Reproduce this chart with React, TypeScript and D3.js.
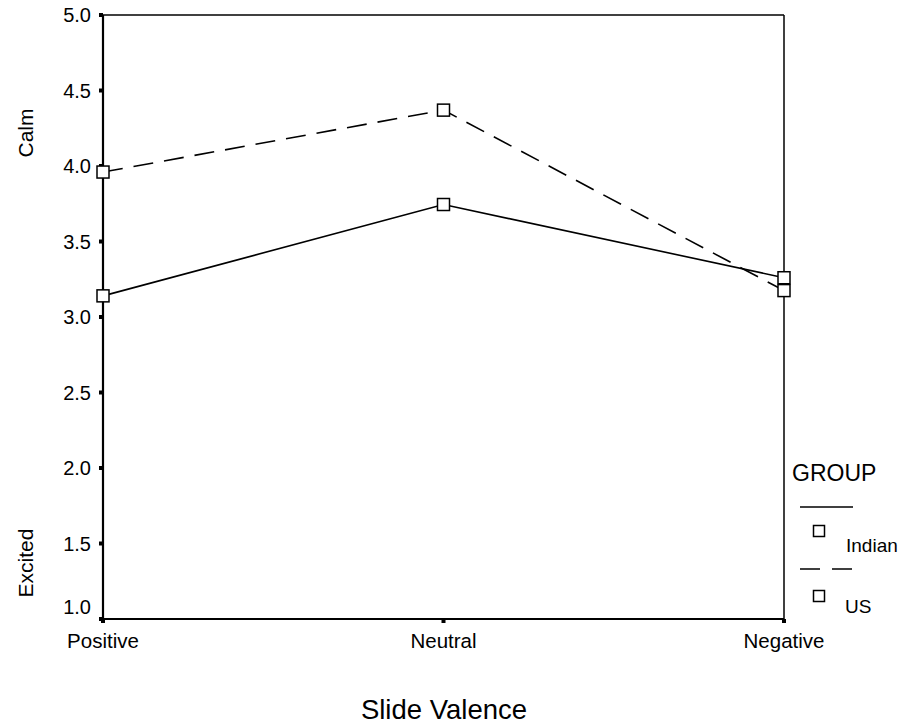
import React from 'react';
import * as d3 from 'd3';

const categories = ['Positive', 'Neutral', 'Negative'];
const indianValues = [3.14, 3.745, 3.26];
const usValues = [3.96, 4.37, 3.175];
const yTicks = [1.0, 1.5, 2.0, 2.5, 3.0, 3.5, 4.0, 4.5, 5.0];

const FONT = '"Liberation Sans", Arial, sans-serif';

export default function App() {
  const width = 906;
  const height = 728;
  const left = 103, right = 784, top = 15, bottom = 619;

  const x = d3.scalePoint<string>().domain(categories).range([left, right]).padding(0);
  const y = d3.scaleLinear().domain([1, 5]).range([bottom, top]);

  const line = d3.line<number>()
    .x((_, i) => x(categories[i]) as number)
    .y(d => y(d));

  const series = [
    { name: 'Indian', values: indianValues, dash: undefined as string | undefined },
    { name: 'US', values: usValues, dash: '20,11' },
  ];

  const ms = 12;

  return (
    <svg width={width} height={height} style={{ position: 'absolute', left: 0, top: 0, background: '#fff' }}>
      <rect x={0} y={0} width={width} height={height} fill="#fff" />
      {/* frame */}
      <line x1={left} x2={right} y1={top} y2={top} stroke="#000" strokeWidth={1.5} />
      <line x1={right} x2={right} y1={top} y2={bottom} stroke="#000" strokeWidth={1.5} />
      <line x1={left} x2={left} y1={top} y2={bottom + 1} stroke="#000" strokeWidth={2.2} />
      <line x1={left - 1} x2={right} y1={bottom} y2={bottom} stroke="#000" strokeWidth={2.2} />

      {/* y ticks */}
      {yTicks.map((t, i) => (
        <g key={t}>
          <rect x={left - 4} y={y(t) - 2} width={4} height={4} fill="#000" />
          <text
            x={91}
            y={y(t) + (i === 0 ? -5 : 7)}
            textAnchor="end"
            fontFamily={FONT}
            fontSize={20}
          >
            {t.toFixed(1)}
          </text>
        </g>
      ))}

      {/* x ticks */}
      {categories.map(c => (
        <g key={c}>
          <rect x={(x(c) as number) - 2} y={bottom} width={4} height={4} fill="#000" />
          <text x={x(c) as number} y={648} textAnchor="middle" fontFamily={FONT} fontSize={20.5}>
            {c}
          </text>
        </g>
      ))}

      {/* axis titles */}
      <text x={444} y={719} textAnchor="middle" fontFamily={FONT} fontSize={27.5}>Slide Valence</text>
      <text transform="translate(33,133) rotate(-90)" textAnchor="middle" fontFamily={FONT} fontSize={21}>Calm</text>
      <text transform="translate(33,563) rotate(-90)" textAnchor="middle" fontFamily={FONT} fontSize={21}>Excited</text>

      {/* series */}
      {series.map(s => (
        <g key={s.name}>
          <path d={line(s.values) || ''} fill="none" stroke="#000" strokeWidth={1.6} strokeDasharray={s.dash} />
          {s.values.map((v, i) => (
            <rect
              key={i}
              x={(x(categories[i]) as number) - ms / 2}
              y={y(v) - ms / 2}
              width={ms}
              height={ms}
              fill="#fff"
              stroke="#000"
              strokeWidth={1.5}
            />
          ))}
        </g>
      ))}

      {/* legend */}
      <text x={792} y={481} fontFamily={FONT} fontSize={23}>GROUP</text>
      <line x1={800} x2={853} y1={507} y2={507} stroke="#000" strokeWidth={1.6} />
      <rect x={819 - 5.5} y={531 - 5.5} width={11} height={11} fill="#fff" stroke="#000" strokeWidth={1.5} />
      <text x={846} y={552} fontFamily={FONT} fontSize={19}>Indian</text>
      <line x1={800} x2={853} y1={569} y2={569} stroke="#000" strokeWidth={1.6} strokeDasharray="20,12" />
      <rect x={819 - 5.5} y={596 - 5.5} width={11} height={11} fill="#fff" stroke="#000" strokeWidth={1.5} />
      <text x={845} y={613} fontFamily={FONT} fontSize={19}>US</text>
    </svg>
  );
}
